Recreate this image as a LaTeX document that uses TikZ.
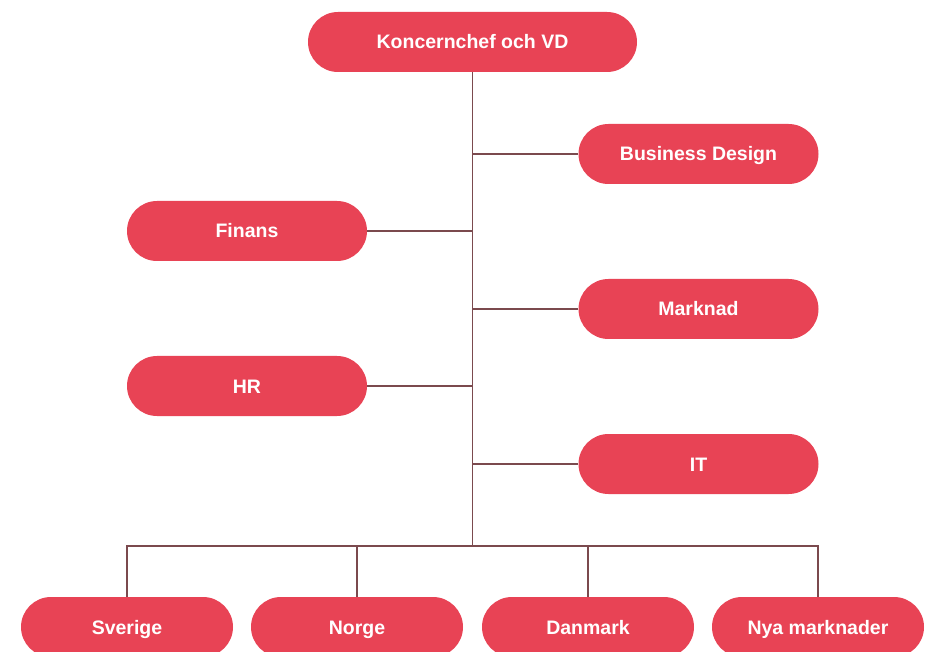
\documentclass[tikz,border=0pt]{standalone}
\usepackage{fontspec}
\setmainfont{Liberation Sans}
\definecolor{pillred}{HTML}{E84355}
\definecolor{linkcol}{HTML}{7B4A4E}
\begin{document}
\begin{tikzpicture}[x=1pt,y=-1pt,
  pill/.style={fill=pillred, rounded corners=30pt, minimum height=60pt, inner sep=0pt,
    text=white, font=\fontsize{19.5}{22}\selectfont\bfseries, text height=14pt, text depth=0pt},
  widepill/.style={pill, minimum width=329pt},
  midpill/.style={pill, minimum width=240pt},
  lowpill/.style={pill, minimum width=212pt},
  link/.style={draw=linkcol, line width=1.3pt}]
\useasboundingbox (0,0) rectangle (932,652);
\node[widepill] (top) at (472.5,42) {Koncernchef och VD};
\node[midpill] (bd) at (698.5,154) {Business Design};
\node[midpill] (fin) at (247,231) {Finans};
\node[midpill] (mark) at (698.5,309) {Marknad};
\node[midpill] (hr) at (247,386) {HR};
\node[midpill] (it) at (698.5,464) {IT};
\node[lowpill] (se) at (127,627) {Sverige};
\node[lowpill] (no) at (357,627) {Norge};
\node[lowpill] (dk) at (588,627) {Danmark};
\node[lowpill] (nya) at (818,627) {Nya marknader};
\coordinate (bus) at (472.5,546);
\draw[link] (top.south) -- (bus);
\draw[link] (bd.west) -- (bd.west -| top.south);
\draw[link] (fin.east) -- (fin.east -| top.south);
\draw[link] (mark.west) -- (mark.west -| top.south);
\draw[link] (hr.east) -- (hr.east -| top.south);
\draw[link] (it.west) -- (it.west -| top.south);
\draw[link] (se.north) |- (bus) -| (nya.north);
\draw[link] (no.north) -- (no.north |- bus);
\draw[link] (dk.north) -- (dk.north |- bus);
\end{tikzpicture}
\end{document}
